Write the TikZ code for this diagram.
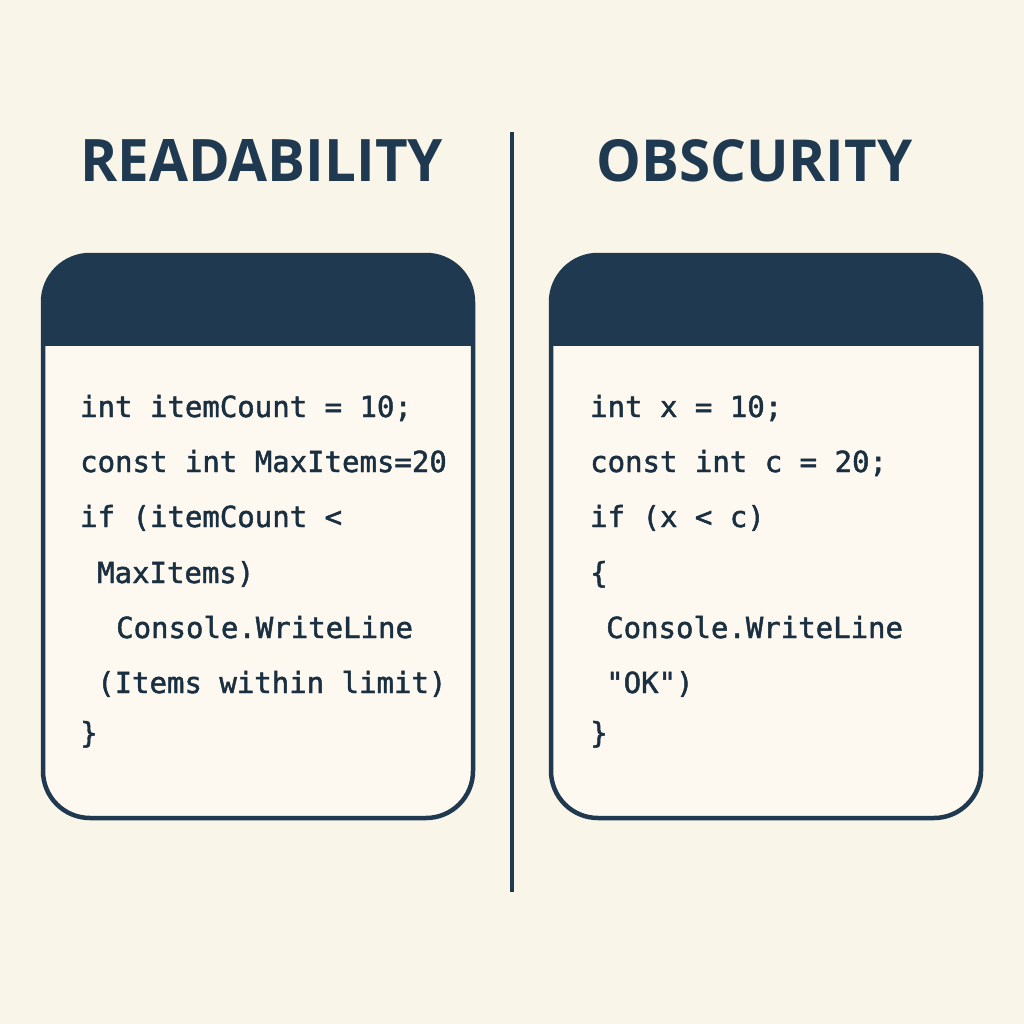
\documentclass[tikz,border=0pt]{standalone}
\usepackage{fontspec}
\usepackage{graphicx}
\newfontfamily\codefont[FakeBold=1.6]{DejaVu Sans Mono}
\newfontfamily\titlefont{Open Sans}
\definecolor{navy}{HTML}{1F3A50}
\definecolor{codec}{HTML}{1A2F40}
\definecolor{bgc}{HTML}{FAF5E9}
\definecolor{inner}{HTML}{FDF9F0}
\begin{document}
\begin{tikzpicture}[x=1pt,y=-1pt,
  codebox/.style={draw=navy, line width=4.5pt, fill=inner, rounded corners=47pt,
    minimum width=430pt, minimum height=563pt, inner sep=0pt, outer sep=0pt,
    path picture={\fill[navy, sharp corners] (path picture bounding box.north west) rectangle ([yshift=-89pt]path picture bounding box.north east);
      \draw[navy, sharp corners, line width=4.5pt] ([yshift=-89pt]path picture bounding box.north west) -- ([yshift=-89pt]path picture bounding box.north east);}},
  code/.style={anchor=base west, inner sep=0pt, text=codec, font=\codefont\fontsize{29}{30}\selectfont},
  titlenode/.style={inner sep=0pt, text=navy}
]
\fill[bgc] (0,0) rectangle (1024,1024);
\useasboundingbox (0,0) rectangle (1024,1024);

% titles
\node[titlenode, anchor=south west] (tread) at (80,182) {\resizebox{363pt}{42pt}{\titlefont\bfseries READABILITY}};
\node[titlenode, anchor=south west] (tobs) at (596,182) {\resizebox{316pt}{42pt}{\titlefont\bfseries OBSCURITY}};

% divider
\coordinate (dtop) at (512,132);
\coordinate (dbot) at (512,892);
\draw[navy, line width=4pt] (dtop) -- (dbot);

% boxes
\node[codebox] (lbox) at (258,536.5) {};
\node[codebox] (rbox) at (766,536.5) {};

% left code
\node[code] (l1) at (80,417) {int itemCount = 10;};
\node[code] (l2) at (80,472) {const int MaxItems=20};
\node[code] (l3) at (80,527) {if (itemCount <};
\node[code] (l4) at (97,583) {MaxItems)};
\node[code] (l5) at (116,638) {Console.WriteLine};
\node[code] (l6) at (97,693) {(Items within limit)};
\node[code] (l7) at (80,743) {\}};

% right code
\node[code] (r1) at (590,417) {int x = 10;};
\node[code] (r2) at (590,472) {const int c = 20;};
\node[code] (r3) at (590,527) {if (x < c)};
\node[code] (r4) at (590,583) {\{};
\node[code] (r5) at (606,638) {Console.WriteLine};
\node[code] (r6) at (606,693) {"OK")};
\node[code] (r7) at (590,743) {\}};
\end{tikzpicture}
\end{document}
